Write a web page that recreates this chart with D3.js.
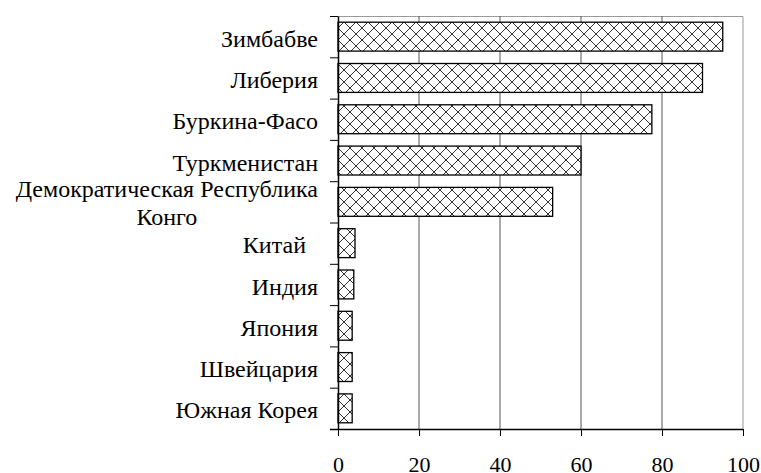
<!DOCTYPE html>
<html>
<head>
<meta charset='UTF-8'>
<script src='https://cdn.jsdelivr.net/npm/d3@7'></script>
<style>
  body {margin:0; background:#fff;}
</style>
</head>
<body>
<div id='chart'></div>
<script>
// data, top to bottom
var countries = ['Зимбабве', 'Либерия', 'Буркина-Фасо', 'Туркменистан',
  'Демократическая Республика Конго', 'Китай  ', 'Индия', 'Япония', 'Швейцария', 'Южная Корея'];
var values = [95, 90, 77.5, 60, 53, 4.2, 3.9, 3.5, 3.5, 3.5];
var xTicks = [0, 20, 40, 60, 80, 100];

var width = 761, height = 473;
var margin = {top: 16, right: 18, bottom: 44, left: 338};
var w = width - margin.left - margin.right;
var h = height - margin.top - margin.bottom;
var serif = 'Liberation Serif';

var svg = d3.select('#chart').append('svg')
  .attr('width', width)
  .attr('height', height);

/* hatch pattern */
var pat = svg.append('defs').append('pattern')
  .attr('id', 'hatch')
  .attr('patternUnits', 'userSpaceOnUse')
  .attr('width', 12).attr('height', 12);
pat.append('rect').attr('width', 12).attr('height', 12).attr('fill', '#fff');
pat.append('path')
  .attr('d', 'M0,0L12,12M12,0L0,12M-6,6L6,18M6,-6L18,6M-6,6L6,-6M6,18L18,6')
  .attr('stroke', '#333').attr('stroke-width', 1);

var g = svg.append('g')
  .attr('transform', `translate(${margin.left}, ${margin.top})`);

var x = d3.scaleLinear().domain([0, 100]).range([0, w]);
var y = d3.scaleBand().domain(countries).range([0, h]).paddingInner(0.3).paddingOuter(0.15);
var yEdge = d3.scaleLinear().domain([0, countries.length]).range([0, h]);

/* frame top/right */
g.append('path')
  .attr('d', `M0,0.5H${w}V${h}`)
  .attr('fill', 'none').attr('stroke', '#999');

/* gridlines */
g.append('g')
  .selectAll('line')
  .data(xTicks.slice(1, -1)).enter()
  .append('line')
  .attr('x1', d => x(d)).attr('x2', d => x(d))
  .attr('y1', 0).attr('y2', h)
  .attr('stroke', '#555');

/* bars */
g.append('g')
  .selectAll('rect')
  .data(countries).enter()
  .append('rect')
  .attr('x', 0)
  .attr('y', d => y(d))
  .attr('width', (d, i) => x(values[i]))
  .attr('height', y.bandwidth())
  .attr('fill', 'url(#hatch)')
  .attr('stroke', '#000')
  .attr('stroke-width', 1.3);

/* x axis */
var xAxis = g.append('g')
  .attr('transform', `translate(0, ${h})`)
  .call(d3.axisBottom(x).tickValues(xTicks).tickSize(7).tickPadding(20).tickSizeOuter(0));
xAxis.select('.domain').attr('stroke-width', 1.5)
  .attr('d', `M-8,0.5H${w}`);
xAxis.selectAll('text')
  .attr('font-family', serif)
  .attr('font-size', 22);

/* y axis boundary ticks */
var yTicksAxis = g.append('g')
  .call(d3.axisLeft(yEdge).ticks(countries.length).tickSize(8).tickFormat('').tickSizeOuter(0));
yTicksAxis.select('.domain').attr('stroke-width', 1.5);

/* y labels */
var yLab = g.append('g')
  .call(d3.axisLeft(y).tickSize(0).tickPadding(20));
yLab.select('.domain').remove();
yLab.selectAll('text')
  .attr('font-family', serif)
  .attr('font-size', 24)
  .attr('dy', '0.42em')
  .style('white-space', 'pre')
  .each(function(d) {
    if (d.indexOf('Конго') < 0) return;
    var t = d3.select(this).text(null).attr('text-anchor', 'middle').attr('dy', null);
    var l1 = t.append('tspan').text('Демократическая Республика').attr('dy', '-0.2em');
    var half = l1.node().getComputedTextLength() / 2;
    l1.attr('x', -20 - half);
    t.append('tspan').text('Конго').attr('x', -20 - half).attr('dy', '1.15em');
  });
</script>
</body>
</html>
